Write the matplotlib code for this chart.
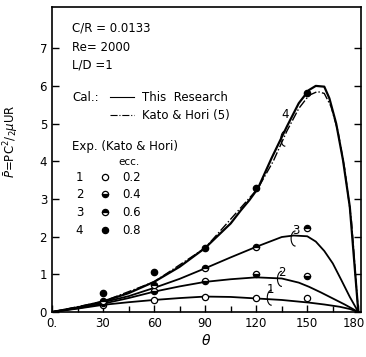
import numpy as np
import matplotlib.pyplot as plt
import matplotlib.transforms as mtransforms
from matplotlib.patches import Arc

# Curvas calculadas (This Research)
th1 = [0, 15, 30, 45, 60, 75, 90, 105, 120, 135, 151, 160, 169, 175, 180]
p1 = [0, 0.09, 0.19, 0.26, 0.32, 0.37, 0.41, 0.40, 0.36, 0.32, 0.25, 0.20, 0.14, 0.08, 0]

th2 = [0, 15, 30, 45, 60, 75, 90, 105, 120, 135, 145, 151, 158, 165, 172, 180]
p2 = [0, 0.10, 0.22, 0.37, 0.54, 0.68, 0.80, 0.87, 0.92, 0.89, 0.78, 0.67, 0.52, 0.36, 0.20, 0]

th3 = [0, 15, 30, 45, 60, 75, 90, 105, 120, 135, 142, 150, 155, 160, 165, 170, 175, 180]
p3 = [0, 0.12, 0.26, 0.42, 0.64, 0.88, 1.16, 1.45, 1.73, 1.99, 2.03, 2.01, 1.87, 1.62, 1.29, 0.85, 0.40, 0]

th4 = [0, 15, 30, 45, 60, 75, 90, 105, 111, 116, 121, 129, 138, 145, 151, 155, 160, 163, 167, 171, 175, 180]
p4 = [0, 0.12, 0.28, 0.50, 0.80, 1.20, 1.70, 2.35, 2.70, 2.97, 3.28, 4.08, 4.92, 5.54, 5.89, 6.00, 5.98, 5.67, 5.00, 4.03, 2.79, 0]

# Kato & Hori (5), curva 4
th4k = [0, 30, 60, 90, 121, 130, 138, 145, 151, 156, 160, 164, 168, 172, 176, 180]
p4k = [0, 0.28, 0.80, 1.70, 3.28, 4.00, 4.80, 5.40, 5.75, 5.85, 5.80, 5.45, 4.80, 3.80, 2.40, 0]

# Experimentos (Kato & Hori)
th_exp = [30, 60, 90, 120, 150]
e02 = [0.18, 0.32, 0.39, 0.36, 0.36]
e04 = [0.25, 0.55, 0.82, 1.01, 0.96]
e06 = [0.30, 0.72, 1.16, 1.72, 2.24]
e08 = [0.50, 1.05, 1.69, 3.30, 5.82]

xticks = [0, 30, 60, 90, 120, 150, 180]
xticklabels = ['0.', '30', '60', '90', '120', '150', '180']
yticks = [0, 1, 2, 3, 4, 5, 6, 7]

fig = plt.figure(figsize=(3.66, 3.57), dpi=100)
ax = fig.add_axes([0.142, 0.126, 0.844, 0.854])

for th, p in [(th1, p1), (th2, p2), (th3, p3)]:
    ax.plot(th, p, 'k-', lw=1.3)
ax.plot(th4, p4, 'k-', lw=1.6)
ax.plot(th4k, p4k, 'k-.', lw=1.0)

ms = 4.5
ax.plot(th_exp, e02, 'o', ms=ms, mfc='white', mec='k', mew=0.9)
ax.plot(th_exp, e04, 'o', ms=ms, mfc='k', mec='k', fillstyle='bottom', mfcalt='white', mew=0.9)
ax.plot(th_exp, e06, 'o', ms=ms, mfc='k', mec='k', fillstyle='top', mfcalt='white', mew=0.9)
ax.plot(th_exp, e08, 'o', ms=ms, mfc='k', mec='k')

ax.set_xlim(0, 181.5)
ax.set_ylim(0, 8.09)
ax.set_xticks(xticks)
ax.set_xticklabels(xticklabels)
ax.set_xticks(np.arange(15, 180, 30), minor=True)
ax.set_yticks(yticks)
ax.tick_params(direction='in', length=5, width=1, labelsize=8.5, right=True)
ax.tick_params(which='minor', direction='in', length=4, width=1)
for s in ax.spines.values():
    s.set_linewidth(1.2)

# nudge the last tick label so it stays inside the figure
last = ax.get_xticklabels()[-1]
last.set_transform(last.get_transform() + mtransforms.ScaledTranslation(-3 / 72, 0, fig.dpi_scale_trans))

ax.set_xlabel(r'$\theta$', fontsize=10, labelpad=2)
ax.set_ylabel(r'$\bar{P}$=PC$^2$/$_2\mu$UR', fontsize=8.5)
ax.yaxis.set_label_coords(-0.1, 0.56)

# Textos
fs = 8.5
ax.text(12, 7.53, 'C/R = 0.0133', fontsize=fs, va='center')
ax.text(12, 7.03, 'Re= 2000', fontsize=fs, va='center')
ax.text(12, 6.55, 'L/D =1', fontsize=fs, va='center')
ax.text(12, 5.68, 'Cal.:', fontsize=fs, va='center')
ax.plot([34, 48], [5.7, 5.7], 'k-', lw=0.8)
ax.text(53, 5.68, 'This  Research', fontsize=fs, va='center')
ax.plot([34, 48], [5.24, 5.24], 'k-.', lw=0.8)
ax.text(53, 5.22, 'Kato & Hori (5)', fontsize=fs, va='center')
ax.text(12, 4.38, 'Exp. (Kato & Hori)', fontsize=fs, va='center')
ax.text(45, 3.98, 'ecc.', fontsize=fs - 1, va='center', ha='center')

leg_y = [3.58, 3.13, 2.65, 2.17]
leg_num = ['1', '2', '3', '4']
leg_ecc = ['0.2', '0.4', '0.6', '0.8']
styles = [dict(mfc='white'), dict(mfc='k', fillstyle='bottom', mfcalt='white'),
          dict(mfc='k', fillstyle='top', mfcalt='white'), dict(mfc='k')]
for yy, n, e, st in zip(leg_y, leg_num, leg_ecc, styles):
    ax.text(14, yy, n, fontsize=fs, va='center')
    ax.plot([31], [yy], 'o', ms=ms, mec='k', mew=0.9, **st)
    ax.text(41, yy, e, fontsize=fs, va='center')

# Etiquetas de curvas
ax.text(135, 5.15, '4', fontsize=fs)
ax.text(141, 2.08, '3', fontsize=fs)
ax.text(133, 0.95, '2', fontsize=fs)
ax.text(126, 0.5, '1', fontsize=fs)
for cx, cy in [(137, 4.6), (143, 1.95), (135, 0.88), (129, 0.38)]:
    ax.add_patch(Arc((cx, cy), 5, 0.4, theta1=60, theta2=300, color='k', lw=0.8))

fig.savefig('out.png', dpi=100)
